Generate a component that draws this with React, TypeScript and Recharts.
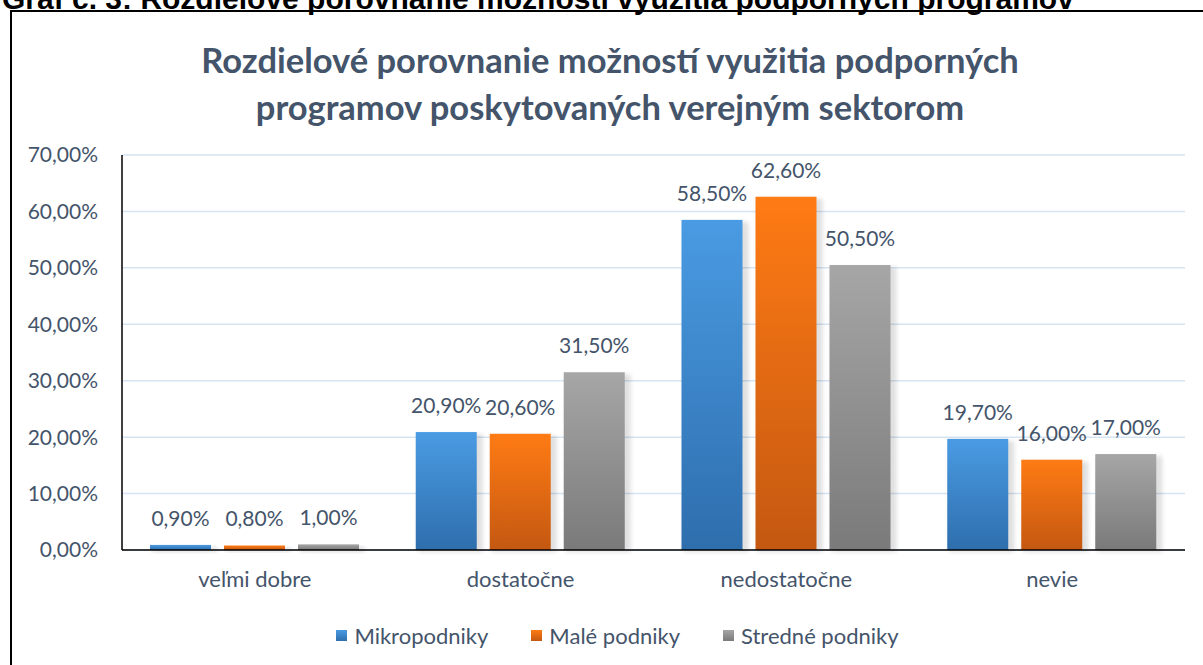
import { BarChart, Bar, XAxis, YAxis, CartesianGrid, LabelList, Legend } from 'recharts';

const categories = ['veľmi dobre', 'dostatočne', 'nedostatočne', 'nevie'];
const mikro = [0.9, 20.9, 58.5, 19.7];
const male = [0.8, 20.6, 62.6, 16.0];
const stredne = [1.0, 31.5, 50.5, 17.0];
const yTicks = [0, 10, 20, 30, 40, 50, 60, 70];

const seriesNames = ['Mikropodniky', 'Malé podniky', 'Stredné podniky'];
const data = categories.map((c, i) => ({ name: c, mikro: mikro[i], male: male[i], stredne: stredne[i] }));

const TEXT = '#44546a';
const FONT = 'Lato, "Open Sans", sans-serif';

const fmt = (v: number) => v.toFixed(2).replace('.', ',') + '%';

const grads = [
  { id: 'gMikro', top: '#4a9be3', bottom: '#2e6ead' },
  { id: 'gMale', top: '#ff7b14', bottom: '#c45811' },
  { id: 'gStredne', top: '#a6a6a6', bottom: '#7a7a7a' },
];

function ShadowBar(props: any) {
  const { x, y, width, height, fill } = props;
  if (!height || height <= 0) return null;
  return (
    <g>
      <rect x={x + 2} y={y + 2} width={width + 4} height={height} fill="#000" opacity={0.12} filter="url(#blur)" />
      <rect x={x} y={y} width={width} height={height} fill={fill} />
    </g>
  );
}

function LegendContent() {
  return (
    <div style={{ height: 40, display: 'flex', alignItems: 'center', justifyContent: 'center', paddingLeft: 32, fontFamily: FONT, fontSize: 22, color: TEXT }}>
      {seriesNames.map((n, i) => (
        <div key={n} style={{ display: 'flex', alignItems: 'center', marginRight: i < 2 ? 43 : 0 }}>
          <span style={{ width: 11, height: 11, display: 'inline-block', marginRight: 7, background: `linear-gradient(${grads[i].top}, ${grads[i].bottom})` }} />
          <span>{n}</span>
        </div>
      ))}
    </div>
  );
}

export default function App() {
  return (
    <div style={{ position: 'absolute', left: 0, top: 0, width: 1203, height: 665, overflow: 'hidden', background: '#fff' }}>
      <div style={{ position: 'absolute', left: 2, top: -16, fontFamily: '"Liberation Sans", Arial, sans-serif', fontWeight: 'bold', fontSize: 30, lineHeight: '30px', color: '#000', whiteSpace: 'nowrap' }}>
        Graf č. 3: Rozdielové porovnanie možností využitia podporných programov
      </div>
      <div style={{ position: 'absolute', left: 10, top: 10, width: 1300, height: 800, borderTop: '2px solid #000', borderLeft: '2px solid #000' }} />
      <div style={{ position: 'absolute', left: 10, top: 36, width: 1200, textAlign: 'center', fontFamily: FONT, fontWeight: 'bold', fontSize: 34.5, lineHeight: '47px', color: TEXT }}>
        Rozdielové porovnanie možností využitia podporných
        <br />
        programov poskytovaných verejným sektorom
      </div>
      <div style={{ position: 'absolute', left: 0, top: 0 }}>
        <BarChart width={1203} height={665} data={data} margin={{ top: 155, right: 18, left: 0, bottom: 10 }} barSize={61} barGap={13}>
          <defs>
            {grads.map((g) => (
              <linearGradient key={g.id} id={g.id} x1="0" y1="0" x2="0" y2="1">
                <stop offset="0%" stopColor={g.top} />
                <stop offset="100%" stopColor={g.bottom} />
              </linearGradient>
            ))}
            <filter id="blur" x="-20%" y="-20%" width="140%" height="140%">
              <feGaussianBlur stdDeviation="2" />
            </filter>
          </defs>
          <CartesianGrid vertical={false} stroke="#d6e3f1" strokeWidth={1.5} />
          <XAxis dataKey="name" height={65} tickLine={false} tickSize={0} tickMargin={21} axisLine={{ stroke: '#000', strokeWidth: 1.5 }} tick={{ fill: TEXT, fontSize: 22, fontFamily: FONT }} />
          <YAxis width={122} domain={[0, 70]} ticks={yTicks} tickFormatter={fmt} tickLine={false} tickSize={0} tickMargin={24} axisLine={{ stroke: '#000', strokeWidth: 1.5 }} tick={{ fill: TEXT, fontSize: 21, fontFamily: FONT }} />
          <Legend verticalAlign="bottom" content={<LegendContent />} wrapperStyle={{ left: 0, width: 1203 }} />
          {(['mikro', 'male', 'stredne'] as const).map((k, i) => (
            <Bar key={k} dataKey={k} name={seriesNames[i]} fill={`url(#${grads[i].id})`} shape={<ShadowBar />} isAnimationActive={false}>
              <LabelList dataKey={k} position="top" offset={19} formatter={(v: any) => fmt(Number(v))} style={{ fill: TEXT, fontSize: 21, fontFamily: FONT }} />
            </Bar>
          ))}
        </BarChart>
      </div>
    </div>
  );
}
